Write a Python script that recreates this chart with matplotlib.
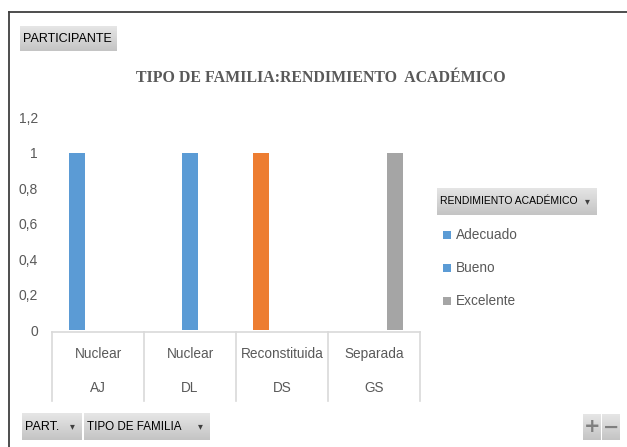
import matplotlib
matplotlib.use("Agg")
import matplotlib.pyplot as plt
import numpy as np
from matplotlib.patches import Rectangle
from matplotlib.lines import Line2D
from matplotlib.colors import LinearSegmentedColormap

# ---------------- data ----------------
tipos = ["Nuclear", "Nuclear", "Reconstituida", "Separada"]
participantes = ["AJ", "DL", "DS", "GS"]
series_names = ["Adecuado", "Bueno", "Excelente"]
adecuado = [1, 0, 1, 0]
bueno = [0, 1, 0, 0]
excelente = [0, 0, 0, 1]
y_ticks = [0, 0.2, 0.4, 0.6, 0.8, 1.0, 1.2]
y_tick_labels = ["0", "0,2", "0,4", "0,6", "0,8", "1", "1,2"]

BLUE = "#5B9BD5"
ORANGE = "#ED7D31"
GRAY = "#A5A5A5"
# per-bar colours as shown in the picture
adecuado_colors = [BLUE, BLUE, ORANGE, BLUE]
bueno_colors = [BLUE, BLUE, BLUE, BLUE]
excelente_colors = [GRAY, GRAY, GRAY, GRAY]
legend_colors = [BLUE, BLUE, GRAY]

FAM = ["Liberation Sans", "DejaVu Sans"]
plt.rcParams["font.family"] = FAM

W, H = 627, 447
fig = plt.figure(figsize=(W / 100, H / 100), dpi=100)
fig.patch.set_facecolor("white")

def fx(px):
    return px / W

def fy(py):
    return 1 - py / H

# ---------------- frame ----------------
fig.add_artist(Line2D([fx(9), fx(9)], [fy(12), fy(447)], color="#3f3f3f", lw=1.3))
fig.add_artist(Line2D([fx(9), fx(627)], [fy(12), fy(12)], color="#3f3f3f", lw=1.3))

# ---------------- buttons ----------------
grad = np.linspace(0, 1, 64).reshape(-1, 1)

def button(x0, y0, x1, y1, text=None, fontsize=9, arrow=False, arrow_x=None, tcolor="black",
           top="#E6E6E6", bot="#C4C4C4"):
    bax = fig.add_axes([fx(x0), fy(y1), fx(x1 - x0), (y1 - y0) / H])
    cmap = LinearSegmentedColormap.from_list("g", [top, bot])
    bax.imshow(grad, aspect="auto", cmap=cmap, extent=[0, 1, 0, 1], origin="upper")
    bax.set_axis_off()
    if text:
        fig.text(fx(x0 + 3), fy((y0 + y1) / 2), text, fontsize=fontsize, color=tcolor,
                 ha="left", va="center", family=FAM)
    if arrow:
        fig.text(fx(arrow_x), fy((y0 + y1) / 2), "\u25BE", fontsize=7, color="#404040",
                 ha="center", va="center", family=["DejaVu Sans"])
    return bax

button(20, 26, 117, 51, "PARTICIPANTE", fontsize=9)
button(437, 188, 597, 215, "RENDIMIENTO ACADÉMICO", fontsize=7.5, arrow=True, arrow_x=587)
button(22, 413, 82, 440, "PART.", fontsize=9, arrow=True, arrow_x=72)
button(84, 413, 210, 440, "TIPO DE FAMILIA", fontsize=8.4, arrow=True, arrow_x=200)
button(583, 414, 601, 440)
button(602, 414, 620, 440)
fig.text(fx(592), fy(427), "+", fontsize=14, color="#7f7f7f", ha="center", va="center",
         family=["DejaVu Sans"], fontweight="bold")
fig.text(fx(611), fy(427), "\u2212", fontsize=14, color="#7f7f7f", ha="center", va="center",
         family=["DejaVu Sans"], fontweight="bold")

# ---------------- title ----------------
fig.text(fx(321), fy(78), "TIPO DE FAMILIA:RENDIMIENTO  ACADÉMICO", fontsize=11.4,
         color="#595959", ha="center", va="center", family=["Liberation Serif"], fontweight="bold")

# ---------------- plot ----------------
ax_left, ax_right = 52, 420
y0px, y12px = 330, 117.6
ax = fig.add_axes([fx(ax_left), fy(y0px), fx(ax_right - ax_left), (y0px - y12px) / H])
ax.set_facecolor("none")

x = np.arange(len(participantes))
bw = 16 / 92
off = 21 / 92
for vals, cols, dx in [(adecuado, adecuado_colors, -off), (bueno, bueno_colors, 0), (excelente, excelente_colors, off)]:
    ax.bar(x + dx, vals, width=bw, color=cols, edgecolor="none", zorder=3)

ax.set_xlim(-0.5, len(participantes) - 0.5)
ax.set_ylim(0, 1.2)
ax.set_yticks(y_ticks)
ax.set_yticklabels(y_tick_labels)
ax.tick_params(axis="y", length=0, pad=10, labelsize=10, labelcolor="#595959")
ax.set_xticks([])
for s in ["top", "right", "left", "bottom"]:
    ax.spines[s].set_visible(False)

# category axis (two-level)
trans = ax.get_xaxis_transform()
h_ax = y0px - y12px
def ay(py):
    return (y0px - py) / h_ax
ax.plot([-0.5, len(participantes) - 0.5], [ay(332), ay(332)], transform=trans, color="#D9D9D9",
        lw=1.2, clip_on=False)
for b in np.arange(len(participantes) + 1) - 0.5:
    ax.plot([b, b], [ay(332), ay(401)], transform=trans, color="#D9D9D9", lw=1.2, clip_on=False)
for i in range(len(participantes)):
    ax.text(x[i], ay(354), tipos[i], transform=trans, ha="center", va="center", fontsize=9.8,
            color="#595959")
    ax.text(x[i], ay(388), participantes[i], transform=trans, ha="center", va="center", fontsize=9.8,
            color="#595959")

# ---------------- legend ----------------
leg_y = [235, 268, 301]
for name, col, yy in zip(series_names, legend_colors, leg_y):
    fig.add_artist(Rectangle((fx(443), fy(yy + 4)), fx(8), 8 / H, facecolor=col, edgecolor="none"))
    fig.text(fx(456), fy(yy), name, fontsize=9.8, color="#595959", ha="left", va="center")

fig.savefig("out.png", dpi=100, facecolor="white")
